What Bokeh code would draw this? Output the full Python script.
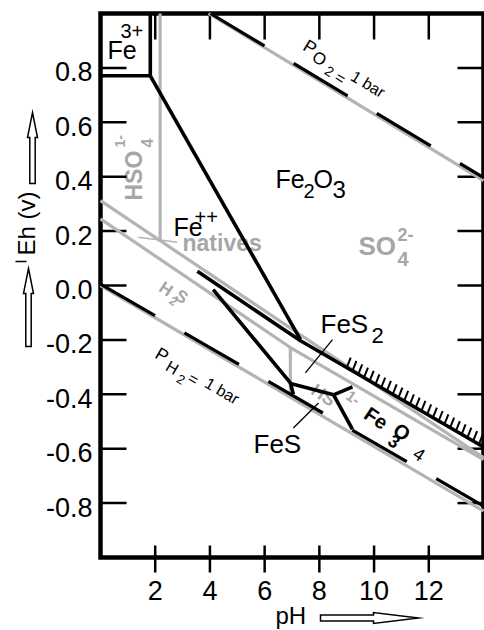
import math
from bokeh.plotting import figure
from bokeh.models import Range1d
from bokeh.core.properties import value
from bokeh.embed import file_html
from bokeh.resources import INLINE

# ---------------- data: pH and Eh (volts) ----------------
x_ticks = [2, 4, 6, 8, 10, 12]
x_labels = ["2", "4", "6", "8", "10", "12"]
y_ticks = [0.8, 0.6, 0.4, 0.2, 0.0, -0.2, -0.4, -0.6, -0.8]
y_labels = ["0.8", "0.6", "0.4", "0.2", "0.0", "-0.2", "-0.4", "-0.6", "-0.8"]
ph_lim = [0.0, 14.0]
eh_lim = [-1.0, 1.0]

# stability limits of water
o2_gray_ph = [3.95, 14.0]
o2_gray_eh = [1.0, 0.386]
o2_dash_ph = [4.02, 14.0]
o2_dash_eh = [1.0, 0.397]
h2_gray_ph = [0.0, 14.0]
h2_gray_eh = [0.0, -0.829]
h2_dash_ph = [0.0, 14.0]
h2_dash_eh = [0.005, -0.811]

# sulfur species boundaries (gray)
hso4_so4_ph = [2.18, 2.18]
hso4_so4_eh = [1.0, 0.165]
s_upper_ph = [0.0, 14.0]
s_upper_eh = [0.312, -0.633]
s_lower_ph = [0.0, 6.94, 14.0]
s_lower_eh = [0.245, -0.228, -0.64]
h2s_hs_ph = [6.94, 6.94]
h2s_hs_eh = [-0.228, -0.411]

# iron phase boundaries (black)
fe3_v_ph = [1.82, 1.82]
fe3_v_eh = [1.0, 0.771]
fe3_h_ph = [0.0, 1.82]
fe3_h_eh = [0.771, 0.771]
fe2_hem_ph = [1.82, 7.31]
fe2_hem_eh = [0.771, -0.199]
pyrite_top_ph = [3.54, 7.31, 14.0]
pyrite_top_eh = [0.052, -0.203, -0.594]
fe2_pyr_ph = [4.12, 6.94, 7.05]
fe2_pyr_eh = [-0.015, -0.358, -0.40]
pyr_fes_ph = [6.98, 8.52]
pyr_fes_eh = [-0.361, -0.402]
fes_mag_ph = [8.52, 9.21]
fes_mag_eh = [-0.402, -0.529]
pyr_mag_ph = [8.52, 9.21]
pyr_mag_eh = [-0.402, -0.373]

# label leader lines
natives_lead_ph = [1.38, 2.81]
natives_lead_eh = [0.177, 0.159]
fes2_lead_ph = [8.48, 7.49]
fes2_lead_eh = [-0.199, -0.321]
fes_lead_ph = [7.97, 7.05]
fes_lead_eh = [-0.432, -0.524]

# hatched part of the pyrite / hematite boundary
hatch_from_ph = 9.0
hatch_step_ph = 0.21

# ---------------- geometry of the page (reference pixels) ----------------
W, H = 484, 630
FX0, FX1, FY0, FY1 = 100.0, 483.0, 13.0, 557.0      # frame edges in pixels
SX = (FX1 - FX0) / (ph_lim[1] - ph_lim[0])          # px per pH unit
SY = (FY1 - FY0) / (eh_lim[1] - eh_lim[0])          # px per volt


def X(px):
    return ph_lim[0] + (px - FX0) / SX


def Y(py):
    return eh_lim[1] - (py - FY0) / SY


FONT = "Liberation Sans"
GRAY = "#b4b4b4"
LGRAY = "#a6a6a6"

p = figure(width=W, height=H, x_range=Range1d(X(0), X(W)), y_range=Range1d(Y(H), Y(0)),
           output_backend="svg", toolbar_location=None,
           x_axis_type=None, y_axis_type=None, min_border=0)
p.grid.visible = False
p.outline_line_color = None
p.background_fill_color = "white"
p.border_fill_color = "white"


def lab(text, x, y, size, color="black", bold=False, angle=0.0):
    """text placed by its baseline-left point (data units); drawn centred on x-height"""
    off = 0.35 * size
    xc = x - math.sin(angle) * off / SX
    yc = y + math.cos(angle) * off / SY
    p.text(x=[xc], y=[yc], text=[text], text_font=value(FONT), text_font_size=f"{size}px",
           text_color=color, text_font_style="bold" if bold else "normal",
           angle=angle, text_align="left", text_baseline="middle")


A_O2 = -0.546
A_H2 = -0.53
A_S = -0.59

# ---- gray species labels (under the lines) ----
lab("HSO", X(142), Y(200), 23, LGRAY, True, math.pi / 2)
lab("4", X(152), Y(147), 16, LGRAY, True, math.pi / 2)
lab("1-", X(124), Y(147), 14, LGRAY, True, math.pi / 2)
lab("natives", X(182), Y(251), 23, LGRAY, True)
lab("SO", X(358), Y(255), 26, LGRAY, True)
lab("2-", X(397), Y(240), 18, LGRAY, True)
lab("4", X(397), Y(265), 20, LGRAY, True)
lab("H", X(157), Y(290), 17, LGRAY, True, A_S)
lab("2", X(168), Y(302), 12, LGRAY, True, A_S)
lab("S", X(173), Y(298), 17, LGRAY, True, A_S)
lab("HS", X(309), Y(393), 18, LGRAY, True, A_S)
lab("1-", X(344), Y(398), 15, LGRAY, True, A_S)

# ---- frame, ticks and tick labels ----
p.quad(left=[ph_lim[0]], right=[ph_lim[1]], bottom=[eh_lim[0]], top=[eh_lim[1]],
       fill_color=None, line_color="black", line_width=4.5, line_join="miter")
tin = 26.0
p.segment(x0=[ph_lim[0]] * len(y_ticks), x1=[ph_lim[0] + tin / SX] * len(y_ticks),
          y0=y_ticks, y1=y_ticks, line_color="black", line_width=2.5)
p.segment(x0=[ph_lim[1]] * len(y_ticks), x1=[ph_lim[1] - tin / SX] * len(y_ticks),
          y0=y_ticks, y1=y_ticks, line_color="black", line_width=2.5)
p.segment(x0=x_ticks, x1=x_ticks, y0=[eh_lim[1]] * len(x_ticks),
          y1=[eh_lim[1] - tin / SY] * len(x_ticks), line_color="black", line_width=2.5)
p.segment(x0=x_ticks, x1=x_ticks, y0=[eh_lim[0] - 15 / SY] * len(x_ticks),
          y1=[eh_lim[0] + 12 / SY] * len(x_ticks), line_color="black", line_width=2.5)
p.text(x=[X(92)] * len(y_ticks), y=[t - 4 / SY for t in y_ticks], text=y_labels,
       text_font=value(FONT), text_font_size="27px", text_align="right",
       text_baseline="middle", text_color="black")
p.text(x=x_ticks, y=[Y(590)] * len(x_ticks), text=x_labels,
       text_font=value(FONT), text_font_size="27px", text_align="center",
       text_baseline="middle", text_color="black")

# ---- gray lines ----
for xs, ys in ((o2_gray_ph, o2_gray_eh), (h2_gray_ph, h2_gray_eh),
               (hso4_so4_ph, hso4_so4_eh), (s_upper_ph, s_upper_eh),
               (s_lower_ph, s_lower_eh), (h2s_hs_ph, h2s_hs_eh)):
    p.line(xs, ys, line_color=GRAY, line_width=3.2)
p.line(natives_lead_ph, natives_lead_eh, line_color=GRAY, line_width=1.5)

# ---- dashed water limits ----
p.line(o2_dash_ph, o2_dash_eh, line_color="black", line_width=3.2, line_dash="63 34")
p.line(h2_dash_ph, h2_dash_eh, line_color="black", line_width=3.2, line_dash="63 34")

# ---- black iron boundaries ----
for xs, ys in ((fe3_v_ph, fe3_v_eh), (fe3_h_ph, fe3_h_eh), (fe2_hem_ph, fe2_hem_eh),
               (pyrite_top_ph, pyrite_top_eh), (fe2_pyr_ph, fe2_pyr_eh),
               (pyr_fes_ph, pyr_fes_eh), (fes_mag_ph, fes_mag_eh), (pyr_mag_ph, pyr_mag_eh)):
    p.line(xs, ys, line_color="black", line_width=3.6)
p.line(fes2_lead_ph, fes2_lead_eh, line_color="black", line_width=1.3)
p.line(fes_lead_ph, fes_lead_eh, line_color="black", line_width=1.3)

# ---- hatching along the upper side of the pyrite boundary ----
hx0, hx1 = pyrite_top_ph[1], pyrite_top_ph[2]
hy0, hy1 = pyrite_top_eh[1], pyrite_top_eh[2]
slope = (hy1 - hy0) / (hx1 - hx0)
n = int((hx1 - hatch_from_ph) / hatch_step_ph) + 1
hxs = [hatch_from_ph + i * hatch_step_ph for i in range(n)]
hys = [hy0 + slope * (h - hx0) for h in hxs]
p.segment(x0=hxs, y0=hys, x1=[h + 4 / SX for h in hxs], y1=[e + 10 / SY for e in hys],
          line_color="black", line_width=2)

# ---- black labels ----
lab("Fe", X(107), Y(58), 25)
lab("3+", X(120), Y(37), 20)
lab("Fe", X(173), Y(235), 25)
lab("++", X(194), Y(223), 20)
lab("Fe", X(275), Y(187), 25)
lab("2", X(303), Y(197), 20)
lab("O", X(313), Y(187), 25)
lab("3", X(332), Y(197), 24)
lab("P", X(301), Y(49), 18, angle=A_O2)
lab("O", X(310), Y(60), 17, angle=A_O2)
lab("2", X(323), Y(73), 14, angle=A_O2)
lab("=", X(333), Y(80), 16, angle=A_O2)
lab("1 bar", X(349), Y(79), 16, angle=A_O2)
lab("P", X(153), Y(357), 18, angle=A_H2)
lab("H", X(164), Y(369), 16, angle=A_H2)
lab("2", X(175), Y(381), 13, angle=A_H2)
lab("=", X(186), Y(381), 16, angle=A_H2)
lab("1 bar", X(203), Y(386), 16, angle=A_H2)
lab("FeS", X(320), Y(333), 26)
lab("2", X(371), Y(343), 22)
lab("FeS", X(253), Y(453), 26)
lab("Fe", X(362), Y(417), 20, bold=True, angle=A_S)
lab("O", X(391), Y(433), 20, bold=True, angle=A_S)
lab("3", X(386), Y(443), 18, bold=True, angle=A_S)
lab("4", X(411), Y(456), 18, angle=A_S)

# ---- axis titles with hollow arrows ----
lab("Eh (v)", X(34.5), Y(255), 24, angle=math.pi / 2)
lab("pH", X(275), Y(623), 24)


def hollow_arrow(pts):
    p.patch([X(a) for a, b in pts], [Y(b) for a, b in pts], fill_color="white",
            line_color="black", line_width=1.5, line_join="miter")


def up_arrow(cx, tip, base, bottom, hw=5.0, sw=2.7):
    hollow_arrow([(cx, tip), (cx + hw, base), (cx + sw, base), (cx + sw, bottom),
                  (cx - sw, bottom), (cx - sw, base), (cx - hw, base)])


up_arrow(32, 112, 137, 183)
up_arrow(28, 268, 293, 346)
p.line([X(15), X(26)], [Y(261), Y(261)], line_color="black", line_width=1.5)
hollow_arrow([(320, 614.5), (373, 614.5), (373, 612), (418, 617.5), (373, 623),
              (373, 620.5), (320, 620.5)])

open("out.html", "w").write(file_html(p, INLINE))
